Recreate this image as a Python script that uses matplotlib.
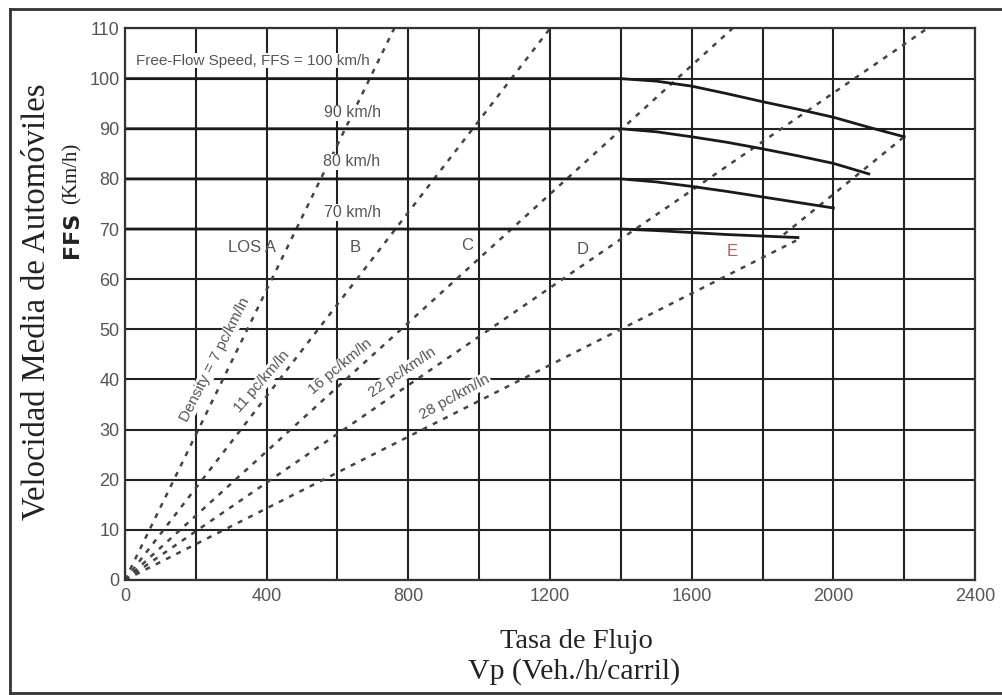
import matplotlib.pyplot as plt
from matplotlib.lines import Line2D

# speed-flow curves (flow pc/h/ln, speed km/h)
ffs100_x = [0, 1400, 1500, 1600, 1700, 1800, 1900, 2000, 2100, 2200]
ffs100_y = [100, 100, 99.5, 98.5, 97.0, 95.4, 93.9, 92.3, 90.3, 88.4]
ffs90_x = [0, 1400, 1500, 1600, 1700, 1800, 1900, 2000, 2100]
ffs90_y = [90, 90, 89.4, 88.4, 87.3, 86.0, 84.6, 83.1, 81.0]
ffs80_x = [0, 1400, 1500, 1600, 1700, 1800, 1900, 2000]
ffs80_y = [80, 80, 79.4, 78.5, 77.5, 76.4, 75.3, 74.2]
ffs70_x = [0, 1400, 1500, 1600, 1700, 1800, 1900]
ffs70_y = [70, 70, 69.7, 69.3, 68.9, 68.6, 68.3]
curves = [(ffs100_x, ffs100_y), (ffs90_x, ffs90_y), (ffs80_x, ffs80_y), (ffs70_x, ffs70_y)]

# density lines from the origin, end points
dens_end_x = [760, 1200, 1715, 2265, 1895]
dens_end_y = [110, 110, 110, 110, 67.7]
# LOS E boundary joining the capacity points
cap_x = [1860, 2200]
cap_y = [68.9, 88.4]

dens_labels = ['Density = 7 pc/km/ln', '11 pc/km/ln', '16 pc/km/ln', '22 pc/km/ln', '28 pc/km/ln']
dens_lab_x = [254, 387, 607, 783, 932]
dens_lab_y = [43.9, 39.5, 42.5, 41.3, 36.5]
dens_lab_rot = [63, 49, 40, 34, 29]

ffs_labels = ['90 km/h', '80 km/h', '70 km/h']
ffs_lab_y = [93.2, 83.4, 73.3]
los_labels = ['LOS A', 'B', 'C', 'D', 'E']
los_x = [359, 650, 966, 1291, 1715]
los_y = [66.3, 66.3, 66.8, 65.9, 65.6]

sans = ['Liberation Sans', 'DejaVu Sans']
serif = ['Liberation Serif', 'DejaVu Serif']
gray = '#555555'

fig = plt.figure(figsize=(10.03, 6.95), dpi=100)
ax = fig.add_axes([0.1246, 0.1655, 0.8475, 0.7935])
ax.set_xlim(0, 2400)
ax.set_ylim(0, 110)

ax.set_xticks(range(0, 2401, 400))
ax.set_xticks(range(0, 2401, 200), minor=True)
ax.set_yticks(range(0, 111, 10))
ax.grid(True, which='both', color='#222222', lw=1.5)
ax.set_axisbelow(True)
ax.tick_params(which='both', length=0, labelsize=13, labelcolor=gray)
ax.tick_params(axis='x', pad=6)
ax.tick_params(axis='y', pad=4)
for lab in ax.get_xticklabels() + ax.get_yticklabels():
    lab.set_family(sans)
for s in ax.spines.values():
    s.set_color('#333333')
    s.set_linewidth(1.6)

# density lines
for ex, ey in zip(dens_end_x, dens_end_y):
    ax.plot([0, ex], [0, ey], color='#444444', lw=1.8, ls=(0, (2, 2.6)))
ax.plot(cap_x, cap_y, color='#444444', lw=1.8, ls=(0, (2, 2.6)))

# speed-flow curves
for cx, cy in curves:
    ax.plot(cx, cy, color='#1a1a1a', lw=2)

box = dict(facecolor='white', edgecolor='none', pad=0.5)
ax.text(30, 103.6, 'Free-Flow Speed, FFS = 100 km/h', fontsize=11, color=gray,
        family=sans, va='center', ha='left', bbox=box)
for lab, y in zip(ffs_labels, ffs_lab_y):
    ax.text(641, y, lab, fontsize=11.5, color=gray, family=sans,
            ha='center', va='center', bbox=box)
for lab, x, y in zip(los_labels, los_x, los_y):
    ax.text(x, y, lab, fontsize=12, color='#b06060' if lab == 'E' else gray,
            family=sans, ha='center', va='center')
for lab, x, y, r in zip(dens_labels, dens_lab_x, dens_lab_y, dens_lab_rot):
    ax.text(x, y, lab, fontsize=11, color=gray, family=sans, rotation=r,
            rotation_mode='anchor', ha='center', va='center', bbox=box)

# axis titles
fig.text(576 / 1003, 1 - 642 / 695, 'Tasa de Flujo', family=serif, fontsize=20.5,
         ha='center', va='center', color='#222222')
fig.text(574 / 1003, 1 - 672 / 695, 'Vp (Veh./h/carril)', family=serif, fontsize=21.5,
         ha='center', va='center', color='#222222')
fig.text(36 / 1003, 1 - 302 / 695, 'Velocidad Media de Automóviles', family=serif,
         fontsize=23.5, rotation=90, ha='center', va='center', color='#222222')
fig.text(72 / 1003, 1 - 235 / 695, 'FFS', family='DejaVu Sans', fontweight='bold',
         fontsize=16, rotation=90, ha='center', va='center', color='#222222')
fig.text(72 / 1003, 1 - 173 / 695, '(Km/h)', family=serif, fontsize=15,
         rotation=90, ha='center', va='center', color='#222222')

# frame around the scanned figure
fig.add_artist(Line2D([10 / 1003, 1.0], [1 - 9 / 695, 1 - 9 / 695], color='#333333', lw=2))
fig.add_artist(Line2D([10 / 1003, 10 / 1003], [2 / 695, 1 - 9 / 695], color='#333333', lw=2))
fig.add_artist(Line2D([10 / 1003, 1.0], [2 / 695, 2 / 695], color='#333333', lw=2))

fig.savefig('out.png', dpi=100)
